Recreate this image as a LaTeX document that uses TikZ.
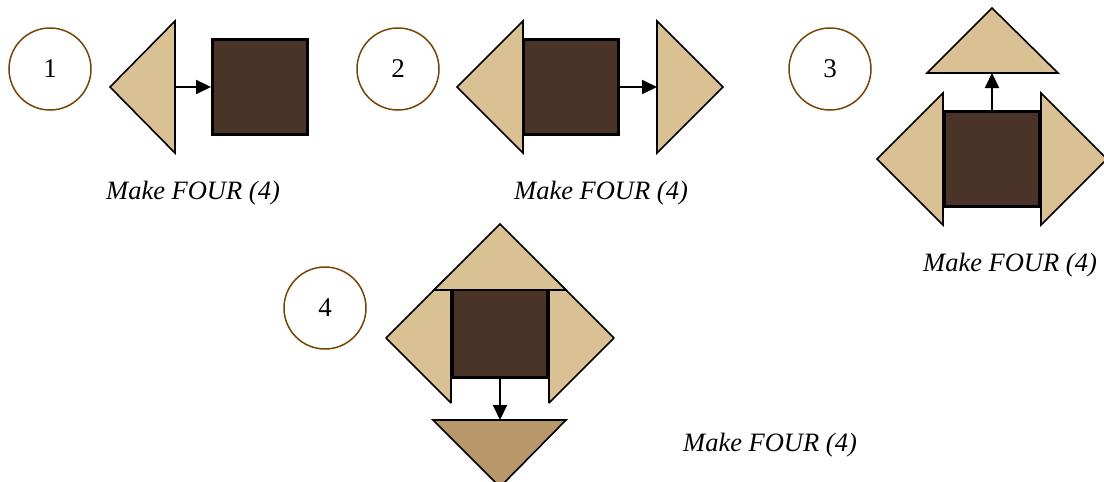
\documentclass[tikz,border=0pt]{standalone}
\usepackage{fontspec}
\setmainfont{Liberation Serif}
\usetikzlibrary{arrows.meta}
\definecolor{tan}{HTML}{D9C193}
\definecolor{darktan}{HTML}{B8976A}
\definecolor{cocoa}{HTML}{4A3427}
\definecolor{ringbrown}{HTML}{7A4306}
\tikzset{
    piece/.style={draw=black,line width=1.6pt,line join=miter,fill=tan},
    block/.style={draw=black,line width=3pt,fill=cocoa,rectangle,inner sep=0pt,minimum size=95pt},
    num/.style={draw=ringbrown,line width=1.5pt,circle,minimum size=82pt,inner sep=0pt,font=\fontsize{27}{30}\selectfont},
    caption/.style={font=\fontsize{26.5}{31}\selectfont\itshape},
    push/.style={line width=2pt,-{Triangle[length=15pt,width=14pt]}}
}
\begin{document}
\begin{tikzpicture}[x=1pt,y=-1pt]
        \useasboundingbox (0,0) rectangle (1104,482);
        % step 1
        \node[num] (n1) at (50,69) {1};
        \draw[piece] (175,21) -- (110,87) -- (175,153) -- cycle;
        \coordinate (t1) at (175,87);
        \node[block] (sq1) at (260,87) {};
        \draw[push] (t1) -- (sq1.west);
        \node[caption] (c1) at (193,193) {Make FOUR (4)};
        % step 2
        \node[num] (n2) at (398,69) {2};
        \draw[piece] (523,21) -- (457,87) -- (523,153) -- cycle;
        \node[block] (sq2) at (571,87) {};
        \draw[piece] (657,21) -- (723,87) -- (657,153) -- cycle;
        \coordinate (t2) at (657,87);
        \draw[push] (sq2.east) -- (t2);
        \node[caption] (c2) at (601,193) {Make FOUR (4)};
        % step 3
        \node[num] (n3) at (830,69) {3};
        \draw[piece] (927,73) -- (992,8) -- (1058,73) -- cycle;
        \coordinate (t3) at (992,73);
        \draw[piece] (943,93) -- (877,159) -- (943,225) -- cycle;
        \draw[piece] (1041,93) -- (1107,159) -- (1041,225) -- cycle;
        \node[block] (sq3) at (992,159) {};
        \draw[push] (sq3.north) -- (t3);
        \node[caption] (c3) at (1010,265) {Make FOUR (4)};
        % step 4 (side pieces tucked under the top one)
        \node[num] (n4) at (325,308) {4};
        \draw[piece,line join=bevel] (448,276) -- (386,338) -- (451,403) -- (451,280) -- cycle;
        \draw[piece,line join=bevel] (552,276) -- (614,338) -- (549,403) -- (549,280) -- cycle;
        \node[block] (sq4) at (500,330) {};
        \draw[piece] (434,290) -- (500,224) -- (566,290) -- cycle;
        \draw[piece,fill=darktan] (433,420) -- (566,420) -- (500,487) -- cycle;
        \coordinate (t4) at (500,420);
        \draw[push] (sq4.south) -- (t4);
        \node[caption] (c4) at (770,445) {Make FOUR (4)};
    \end{tikzpicture}
\end{document}
